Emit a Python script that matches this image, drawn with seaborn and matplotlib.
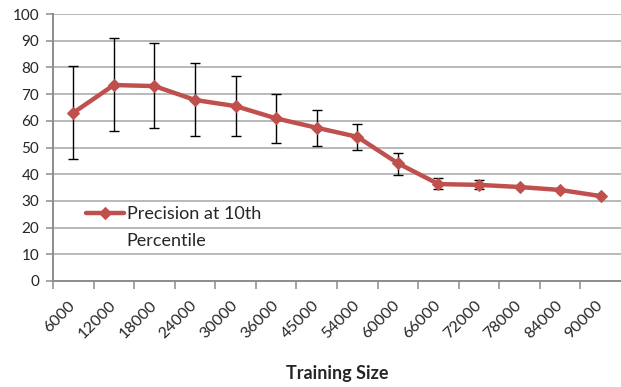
import matplotlib
matplotlib.use("Agg")
import matplotlib.pyplot as plt
import matplotlib.transforms as mtransforms
import seaborn as sns
import pandas as pd
import numpy as np

training_sizes = ["6000", "12000", "18000", "24000", "30000", "36000", "45000",
                  "54000", "60000", "66000", "72000", "78000", "84000", "90000"]
precision = [63.0, 73.4, 73.0, 67.8, 65.5, 60.9, 57.4, 54.0, 44.1, 36.3, 36.0, 35.2, 34.1, 31.8]
err_upper = [80.6, 90.9, 89.0, 81.5, 76.8, 69.9, 64.0, 58.8, 47.8, 38.7, 37.8, 35.2, 34.1, 31.8]
err_lower = [45.7, 56.2, 57.3, 54.4, 54.2, 51.7, 50.4, 49.0, 39.8, 34.3, 34.3, 35.2, 34.1, 31.8]
y_ticks = [0, 10, 20, 30, 40, 50, 60, 70, 80, 90, 100]
series_label = "Precision at 10th\nPercentile"
x_title = "Training Size"

sns.set_theme(style="white")
plt.rcParams['font.family'] = ['Lato', 'DejaVu Sans']

df = pd.DataFrame({"size": training_sizes, "precision": precision})
pos = np.arange(len(training_sizes))

fig = plt.figure(figsize=(6.21, 3.87), dpi=100)
ax = fig.add_axes([53/621, 1 - 281/387, 1 - 53/621, (281 - 14)/387])

gray = "#8c8c8c"
grid_gray = "#a6a6a6"
text_col = "#262626"

for yv in y_ticks[1:]:
    ax.axhline(yv, color=grid_gray, lw=1.1, zorder=0)

yerr = [np.array(precision) - np.array(err_lower), np.array(err_upper) - np.array(precision)]
ax.errorbar(pos, precision, yerr=yerr, fmt="none", ecolor="black", elinewidth=1.0,
            capsize=3.5, capthick=1.0, zorder=2)

first_line, second_line = series_label.split("\n")
sns.lineplot(data=df, x="size", y="precision", ax=ax, color="#C0504D", lw=3.2,
             marker="D", markersize=6.5, markeredgecolor="#C0504D", label=first_line,
             sort=False, zorder=3)

ax.set_ylim(0, 100)
ax.set_xlim(-0.5, 13.5)
ax.set_yticks(y_ticks)
ax.set_yticklabels([str(v) for v in y_ticks], fontsize=11, color=text_col)
ax.set_xticks(pos)
ax.set_xticklabels(training_sizes, rotation=45, ha="right", va="center",
                   rotation_mode="anchor", fontsize=11.5, color=text_col)
shift = mtransforms.ScaledTranslation(3/72, 0, fig.dpi_scale_trans)
for lbl in ax.get_xticklabels():
    lbl.set_transform(lbl.get_transform() + shift)
ax.tick_params(axis="x", which="major", length=0, pad=16)
ax.tick_params(axis="y", which="major", length=5, width=1.1, color=gray, pad=5, left=True)
ax.set_xticks(np.arange(-0.5, 13.0, 1.0), minor=True)
ax.tick_params(axis="x", which="minor", length=6, width=1.1, color=gray, bottom=True)

for s in ["top", "right"]:
    ax.spines[s].set_visible(False)
for s in ["left", "bottom"]:
    ax.spines[s].set_visible(True)
    ax.spines[s].set_color(gray)
    ax.spines[s].set_linewidth(1.4)

ax.set_ylabel("")
ax.set_xlabel(x_title, fontsize=13, fontweight="bold", color=text_col, va="center")
ax.xaxis.set_label_coords(0.5, -(374 - 281) / 267)

leg = ax.legend(loc="center left", bbox_to_anchor=(33/568, 1 - (214 - 14)/267), frameon=False,
                fontsize=13, handlelength=2.1, handletextpad=0.15, borderaxespad=0,
                borderpad=0)
for t in leg.get_texts():
    t.set_color(text_col)

fig.canvas.draw()
tb = leg.get_texts()[0].get_window_extent()
x0, y0 = ax.transAxes.inverted().transform((tb.x0, tb.y0))
ax.annotate(second_line, xy=(x0, y0), xycoords="axes fraction", xytext=(0, -8),
            textcoords="offset points", ha="left", va="top", fontsize=13, color=text_col)

fig.savefig("out.png", dpi=100)
